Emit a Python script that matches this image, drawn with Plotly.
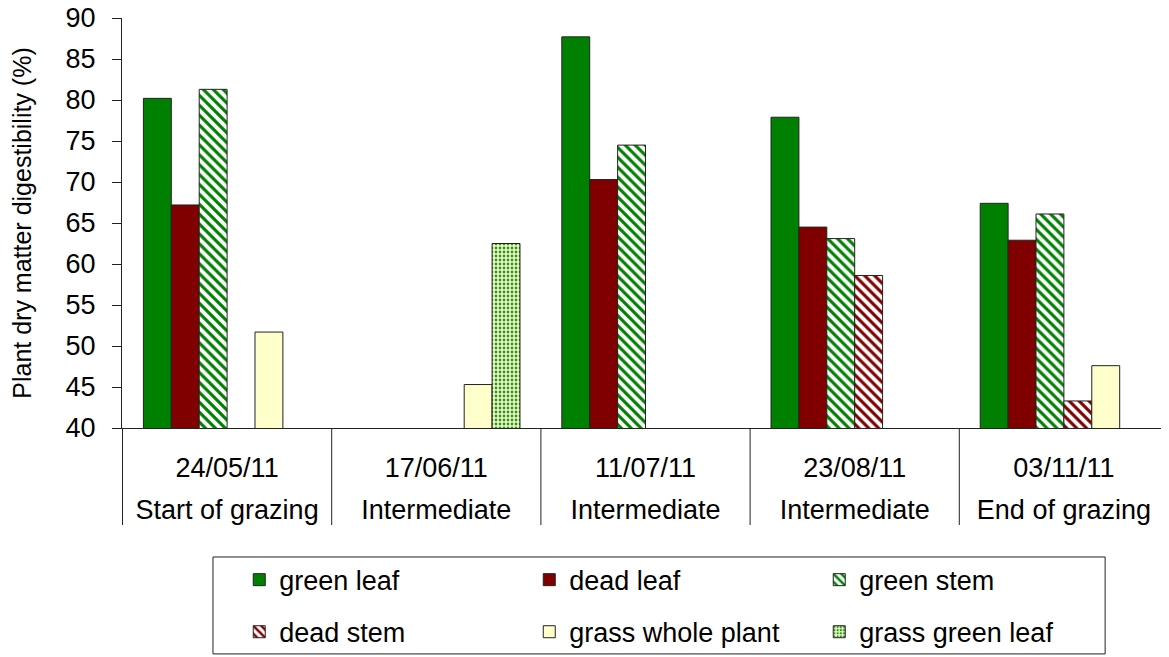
import plotly.graph_objects as go

# sampling dates and grazing phase
dates = ["24/05/11", "17/06/11", "11/07/11", "23/08/11", "03/11/11"]
phases = ["Start of grazing", "Intermediate", "Intermediate", "Intermediate", "End of grazing"]

# digestibility (%) per plant part, None = not sampled
green_leaf = [80.2, None, 87.7, 77.9, 67.4]
dead_leaf = [67.2, None, 70.3, 64.5, 62.9]
green_stem = [81.3, None, 74.5, 63.1, 66.1]
dead_stem = [None, None, None, 58.6, 43.3]
grass_whole = [51.7, 45.3, None, None, 47.6]
grass_green_leaf = [None, 62.5, None, None, None]

FONT = "Liberation Sans, Arial, sans-serif"
FS = 27
OUTLINE = dict(color="#222222", width=1)

series = [
    ("green leaf", green_leaf, dict(color="#008000"), "legend"),
    ("dead leaf", dead_leaf, dict(color="#800000"), "legend"),
    ("green stem", green_stem,
     dict(color="white", pattern=dict(shape="\\", fgcolor="#008000", bgcolor="white", fgopacity=1,
                                      size=7, solidity=0.45, fillmode="overlay")), "legend"),
    ("dead stem", dead_stem,
     dict(color="white", pattern=dict(shape="\\", fgcolor="#800000", bgcolor="white", fgopacity=1,
                                      size=7, solidity=0.45, fillmode="overlay")), "legend2"),
    ("grass whole plant", grass_whole, dict(color="#FFFFCC"), "legend2"),
    ("grass green leaf", grass_green_leaf,
     dict(color="#FFFFCC", pattern=dict(shape=".", fgcolor="#1E9A1E", bgcolor="#FFFFCC", fgopacity=1,
                                        size=4, solidity=0.4, fillmode="overlay")), "legend2"),
]

fig = go.Figure()
for name, vals, marker, leg in series:
    marker = dict(marker, line=OUTLINE)
    fig.add_trace(go.Bar(name=name, x=dates, y=vals, marker=marker, legend=leg))

# two-line category labels; the outer font size sets the line pitch
span = "<span style='font-size:%dpx'>%s</span>"
ticktext = [span % (FS, d) + "<br>" + span % (FS, p) for d, p in zip(dates, phases)]

# vertical separators between the sampling dates, below the axis
dividers = [dict(type="line", xref="x", yref="paper", x0=i - 0.5, x1=i - 0.5, y0=0, y1=-0.2366,
                 line=dict(color="#222222", width=1)) for i in range(len(dates) + 1)]

legend_style = dict(orientation="h", xanchor="left", yanchor="middle", x=0.112,
                    font=dict(family=FONT, size=FS, color="black"),
                    entrywidth=245, bgcolor="rgba(0,0,0,0)", borderwidth=0)

# the page body adds an 8px offset, so the figure is 8px smaller
fig.update_layout(
    width=1161, height=649,
    margin=dict(l=114, r=0, t=10, b=221),
    paper_bgcolor="white", plot_bgcolor="white",
    barmode="group", bargap=0.2, bargroupgap=0,
    font=dict(family=FONT, size=FS, color="black"),
    showlegend=True,
    legend=dict(legend_style, y=-0.371),
    legend2=dict(legend_style, y=-0.498),
    shapes=dividers + [
        dict(type="rect", xref="paper", yref="paper", x0=0.0869, x1=0.939, y0=-0.551, y1=-0.3146,
             line=dict(color="#222222", width=1), fillcolor="rgba(0,0,0,0)"),
    ],
    xaxis=dict(
        showline=True, linecolor="#222222", linewidth=1,
        ticks="", showgrid=False, automargin=False,
        tickmode="array", tickvals=dates, ticktext=ticktext,
        tickfont=dict(family=FONT, size=32, color="black"),
        ticklabelstandoff=10,
    ),
    yaxis=dict(
        range=[40, 90], dtick=5, tick0=40,
        showline=True, linecolor="#222222", linewidth=1,
        ticks="outside", ticklen=9, tickcolor="#222222",
        showgrid=False, zeroline=False, automargin=False,
        tickfont=dict(family=FONT, size=FS, color="black"),
        ticklabelstandoff=11, ticklabeloverflow="allow",
        title=dict(text="Plant dry matter digestibility (%)",
                   font=dict(family=FONT, size=25, color="black"), standoff=28),
    ),
)

fig.write_html("out.html")
